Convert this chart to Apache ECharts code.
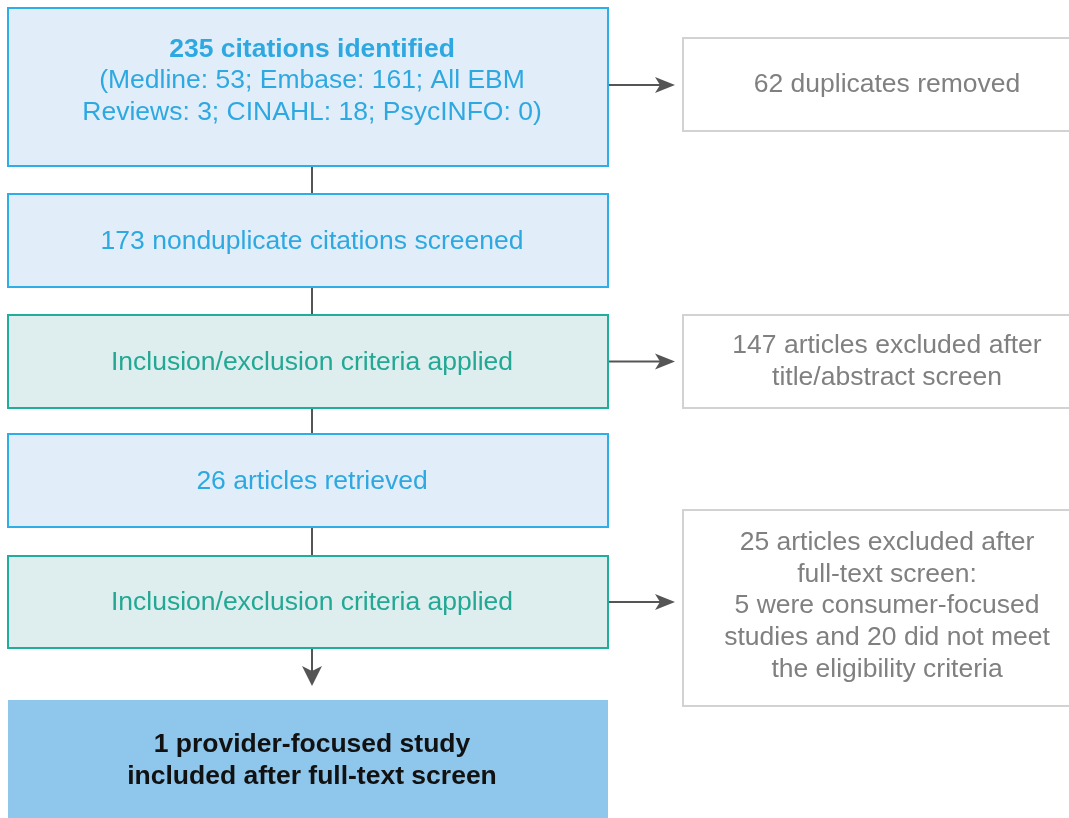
<!DOCTYPE html>
<html>
<head>
<meta charset="utf-8">
<script src="https://cdn.jsdelivr.net/npm/echarts@6/dist/echarts.min.js"></script>
<style>
html,body{margin:0;padding:0;background:#fff;}
#chart{width:1069px;height:818px;}
</style>
</head>
<body>
<div id="chart"></div>
<script>
// ---- content ----
const leftTitles = [
  '235 citations identified',
  '',
  '',
  '',
  '',
  ''
];
const leftLabels = [
  '(Medline: 53; Embase: 161; All EBM\nReviews: 3; CINAHL: 18; PsycINFO: 0)',
  '173 nonduplicate citations screened',
  'Inclusion/exclusion criteria applied',
  '26 articles retrieved',
  'Inclusion/exclusion criteria applied',
  '1 provider-focused study\nincluded after full-text screen'
];
const leftKinds = ['blue', 'blue', 'green', 'blue', 'green', 'final'];
const rightLabels = [
  '62 duplicates removed',
  '147 articles excluded after\ntitle/abstract screen',
  '25 articles excluded after\nfull-text screen:\n5 were consumer-focused\nstudies and 20 did not meet\nthe eligibility criteria'
];
const rightFromLeft = [0, 2, 4];

// ---- layout / style ----
const FONT = '"Liberation Sans", Arial, Helvetica, sans-serif';
const L_X = 8, L_W = 600, CX = 312;
const L_TOP = [8, 194, 315, 434, 556, 700];
const L_H = [158, 93, 93, 93, 92, 140];
const R_X = 683, R_W = 420;
const R_TOP = [38, 315, 510];
const R_H = [93, 93, 196];
const STYLES = {
  blue:  {fill: '#e1eef9', stroke: '#2eaee6', text: '#2ea8e0', weight: 'normal'},
  green: {fill: '#deeded', stroke: '#1fae9c', text: '#22a894', weight: 'normal'},
  final: {fill: '#8fc6ec', stroke: null, text: '#111111', weight: 'bold'},
  gray:  {fill: '#ffffff', stroke: '#d2d2d2', text: '#808080', weight: 'normal'}
};
const LINE_C = '#555555';
const FS = 26.5, LH = 31.7;

const elements = [];
function box(x, y, w, h, st) {
  elements.push({
    type: 'rect', shape: {x: x, y: y, width: w, height: h},
    style: {fill: st.fill, stroke: st.stroke || 'none', lineWidth: st.stroke ? 2 : 0},
    z: 1
  });
}
function text(cx, cy, str, st, titleStr) {
  let t = str, rich = {};
  if (titleStr) {
    t = '{b|' + titleStr + '}\n' + str;
    rich = {b: {fontWeight: 'bold', fontSize: FS, lineHeight: LH, fontFamily: FONT, fill: st.text}};
  }
  elements.push({
    type: 'text', x: cx, y: cy, z: 3,
    style: {
      text: t, fill: st.text, fontSize: FS, lineHeight: LH, fontFamily: FONT,
      fontWeight: st.weight, align: 'center', verticalAlign: 'middle', rich: rich
    }
  });
}
function line(x1, y1, x2, y2) {
  elements.push({type: 'line', shape: {x1: x1, y1: y1, x2: x2, y2: y2},
    style: {stroke: LINE_C, lineWidth: 2}, z: 0});
}
function arrowHead(tx, ty, dir) {
  let pts;
  if (dir === 'right') pts = [[tx, ty], [tx - 20, ty - 8], [tx - 15, ty], [tx - 20, ty + 8]];
  else pts = [[tx, ty], [tx - 10, ty - 20], [tx, ty - 15], [tx + 10, ty - 20]];
  elements.push({type: 'polygon', shape: {points: pts}, style: {fill: LINE_C}, z: 2});
}

leftLabels.forEach(function (lab, i) {
  const st = STYLES[leftKinds[i]];
  box(L_X, L_TOP[i], L_W, L_H[i], st);
  let cy = L_TOP[i] + L_H[i] / 2 + 1;
  if (i === 0) cy = 81;
  if (i === leftLabels.length - 1) cy = 761;
  text(CX, cy, lab, st, leftTitles[i]);
  if (i < leftLabels.length - 1) {
    const y1 = L_TOP[i] + L_H[i], y2 = L_TOP[i + 1];
    if (i === leftLabels.length - 2) {
      line(CX, y1, CX, y2 - 28);
      arrowHead(CX, y2 - 14, 'down');
    } else {
      line(CX, y1, CX, y2);
    }
  }
});

rightLabels.forEach(function (lab, j) {
  const st = STYLES.gray;
  box(R_X, R_TOP[j], R_W, R_H[j], st);
  text(887, R_TOP[j] + R_H[j] / 2 + (j === 2 ? -2 : 0), lab, st);
  const li = rightFromLeft[j];
  const ay = L_TOP[li] + L_H[li] / 2 + (li === 0 ? -2 : 0);
  line(L_X + L_W, ay, 665, ay);
  arrowHead(675, ay, 'right');
});

const chart = echarts.init(document.getElementById('chart'), null, {renderer: 'canvas'});
chart.setOption({
  backgroundColor: '#ffffff',
  animation: false,
  graphic: {elements: elements}
});
</script>
</body>
</html>
